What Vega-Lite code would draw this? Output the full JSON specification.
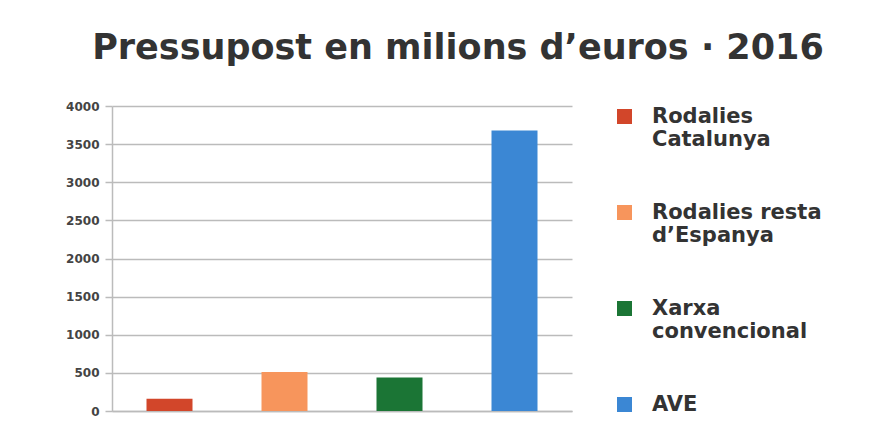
{
  "$schema": "https://vega.github.io/schema/vega-lite/v6.json",
  "autosize": "none",
  "width": 460,
  "height": 305,
  "padding": {"left": 112, "top": 106, "right": 322, "bottom": 32},
  "background": "white",
  "title": {
    "text": "Pressupost en milions d’euros · 2016",
    "font": "DejaVu Sans",
    "fontSize": 35,
    "fontWeight": "bold",
    "color": "#333333",
    "anchor": "middle",
    "dx": 116,
    "offset": 34
  },
  "data": {
    "values": [
      {"categoria": "Rodalies Catalunya", "pressupost": 160},
      {"categoria": "Rodalies resta d’Espanya", "pressupost": 510},
      {"categoria": "Xarxa convencional", "pressupost": 440},
      {"categoria": "AVE", "pressupost": 3680}
    ]
  },
  "mark": {"type": "bar"},
  "encoding": {
    "x": {
      "field": "categoria",
      "type": "nominal",
      "sort": null,
      "scale": {"paddingInner": 0.6, "paddingOuter": 0.3},
      "axis": {"labels": false, "ticks": false, "title": null, "domainColor": "#bbbbbb", "domainWidth": 1.5}
    },
    "y": {
      "field": "pressupost",
      "type": "quantitative",
      "scale": {"domain": [0, 4000], "nice": false},
      "axis": {
        "values": [0, 500, 1000, 1500, 2000, 2500, 3000, 3500, 4000],
        "format": "d",
        "title": null,
        "labelFont": "DejaVu Sans",
        "labelFontWeight": "bold",
        "labelFontSize": 12,
        "labelColor": "#444444",
        "labelPadding": 6,
        "tickSize": 7,
        "tickColor": "#bbbbbb",
        "tickWidth": 1.5,
        "gridColor": "#bbbbbb",
        "gridWidth": 1.5,
        "domainColor": "#bbbbbb",
        "domainWidth": 1.5
      }
    },
    "color": {
      "field": "categoria",
      "type": "nominal",
      "sort": null,
      "scale": {
        "domain": ["Rodalies Catalunya", "Rodalies resta d’Espanya", "Xarxa convencional", "AVE"],
        "range": ["#d2462a", "#f7955c", "#1b7535", "#3b87d4"]
      },
      "legend": {
        "title": null,
        "orient": "none",
        "legendX": 502,
        "legendY": 0,
        "padding": 0,
        "symbolType": "square",
        "symbolSize": 225,
        "symbolStrokeWidth": 0,
        "labelFont": "DejaVu Sans",
        "labelFontWeight": "bold",
        "labelFontSize": 21,
        "labelColor": "#333333",
        "labelOffset": 17,
        "labelLimit": 300,
        "labelBaseline": "middle",
        "rowPadding": 51,
        "labelExpr": "datum.value == 'Rodalies Catalunya' ? ['Rodalies', 'Catalunya'] : datum.value == 'Rodalies resta d’Espanya' ? ['Rodalies resta', 'd’Espanya'] : datum.value == 'Xarxa convencional' ? ['Xarxa', 'convencional'] : datum.label"
      }
    }
  },
  "config": {"view": {"stroke": null}}
}
